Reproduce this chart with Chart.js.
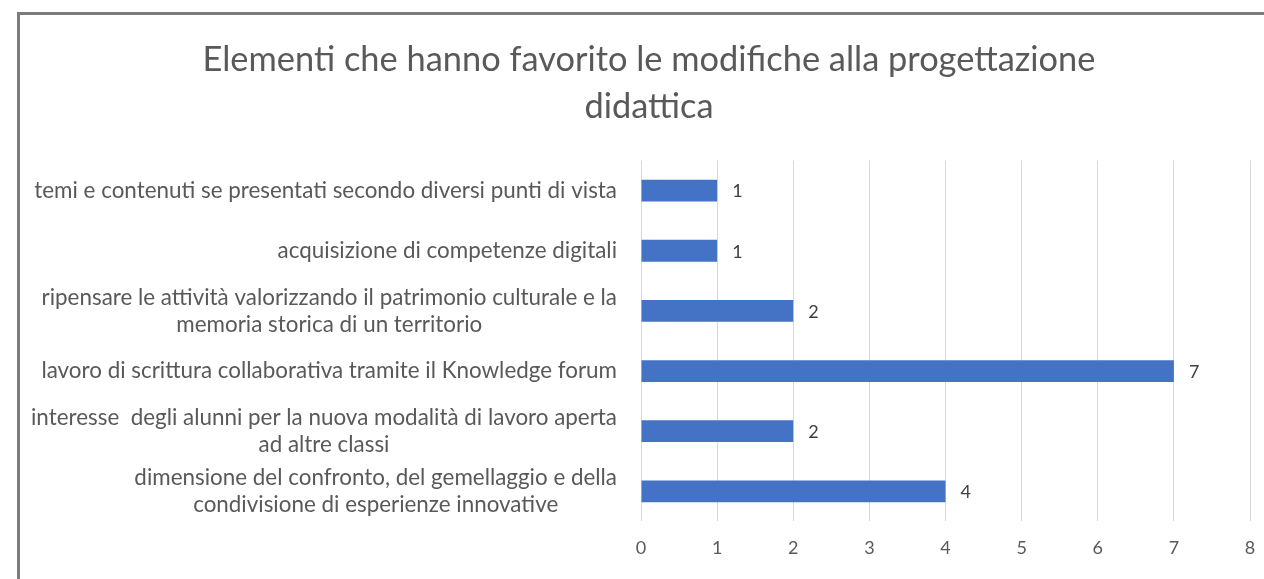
<!DOCTYPE html>
<html lang="it">
<head>
<meta charset="utf-8">
<title>Elementi che hanno favorito le modifiche alla progettazione didattica</title>
<script src="https://cdn.jsdelivr.net/npm/chart.js@4/dist/chart.umd.min.js"></script>
<style>
  html, body { margin: 0; padding: 0; background: #fff; overflow: hidden; }
  #cornice {
    position: absolute; left: 17px; top: 12px;
    width: 1262px; height: 570px;
    border-top: 3px solid #7b7b7b; border-left: 3px solid #7b7b7b;
  }
  #contenitore { position: relative; width: 1258px; height: 564px; }
</style>
</head>
<body>
<div id="cornice">
  <div id="contenitore"><canvas id="grafico"></canvas></div>
</div>
<script>
// =================== DATI ===================
const titolo = ['Elementi che hanno favorito le modifiche alla progettazione', 'didattica'];

const categorie = [
  ['temi e contenuti se presentati secondo diversi punti di vista'],
  ['acquisizione di competenze digitali'],
  ['ripensare le attività valorizzando il patrimonio culturale e la', 'memoria storica di un territorio'],
  ['lavoro di scrittura collaborativa tramite il Knowledge forum'],
  ['interesse  degli alunni per la nuova modalità di lavoro aperta', 'ad altre classi'],
  ['dimensione del confronto, del gemellaggio e della', 'condivisione di esperienze innovative']
];

const risposte = [1, 1, 2, 7, 2, 4];

const tickAsseX = [0, 1, 2, 3, 4, 5, 6, 7, 8];

// =================== STILE ===================
const FONT = 'Lato, "Open Sans", sans-serif';
const GRIGIO_TESTO = '#595959';
const BLU = '#4472C4';

// etichette delle categorie: righe centrate tra loro, blocco allineato a destra
const etichetteCategorie = {
  id: 'etichetteCategorie',
  afterDraw(chart) {
    const ctx = chart.ctx;
    const y = chart.scales.y;
    const interlinea = 27;
    ctx.save();
    ctx.font = '22.4px ' + FONT;
    ctx.fillStyle = GRIGIO_TESTO;
    ctx.textAlign = 'center';
    ctx.textBaseline = 'middle';
    categorie.forEach((righe, i) => {
      const larghezza = Math.max(...righe.map(r => ctx.measureText(r).width));
      const centroX = y.right - 24 - larghezza / 2;
      const centroY = y.getPixelForTick(i);
      righe.forEach((r, k) => {
        ctx.fillText(r, centroX, centroY + (k - (righe.length - 1) / 2) * interlinea);
      });
    });
    ctx.restore();
  }
};

// valore scritto a destra di ogni barra
const valoriBarre = {
  id: 'valoriBarre',
  afterDatasetsDraw(chart) {
    const ctx = chart.ctx;
    ctx.save();
    ctx.font = '18px ' + FONT;
    ctx.fillStyle = '#404040';
    ctx.textAlign = 'left';
    ctx.textBaseline = 'middle';
    chart.getDatasetMeta(0).data.forEach((barra, i) => {
      ctx.fillText(String(risposte[i]), barra.x + 15, barra.y + 1);
    });
    ctx.restore();
  }
};

new Chart(document.getElementById('grafico'), {
  type: 'bar',
  data: {
    labels: categorie.map(c => c.join(' ')),
    datasets: [{
      label: 'Risposte',
      data: risposte,
      backgroundColor: BLU,
      borderWidth: 0,
      categoryPercentage: 0.55,
      barPercentage: 0.66
    }]
  },
  options: {
    indexAxis: 'y',
    responsive: true,
    maintainAspectRatio: false,
    animation: false,
    // padding uguale ai lati così il titolo resta centrato sul riquadro
    layout: { padding: { left: 28, right: 28, top: 0, bottom: 4 } },
    plugins: {
      legend: { display: false },
      tooltip: { enabled: false },
      title: {
        display: true,
        text: titolo,
        color: GRIGIO_TESTO,
        font: { family: FONT, size: 34.4, weight: 'normal', lineHeight: 1.36 },
        padding: { top: 22, bottom: 30 }
      }
    },
    scales: {
      x: {
        min: tickAsseX[0],
        max: tickAsseX[tickAsseX.length - 1],
        afterBuildTicks: scala => { scala.ticks = tickAsseX.map(v => ({ value: v })); },
        grid: { color: '#d9d9d9', lineWidth: 1, drawTicks: false },
        border: { display: false },
        ticks: {
          color: GRIGIO_TESTO,
          padding: 16,
          font: { family: FONT, size: 18 }
        }
      },
      y: {
        grid: { display: false },
        border: { display: false },
        ticks: { display: false },
        afterFit: scala => { scala.width = 593; }
      }
    }
  },
  plugins: [etichetteCategorie, valoriBarre]
});
</script>
</body>
</html>
